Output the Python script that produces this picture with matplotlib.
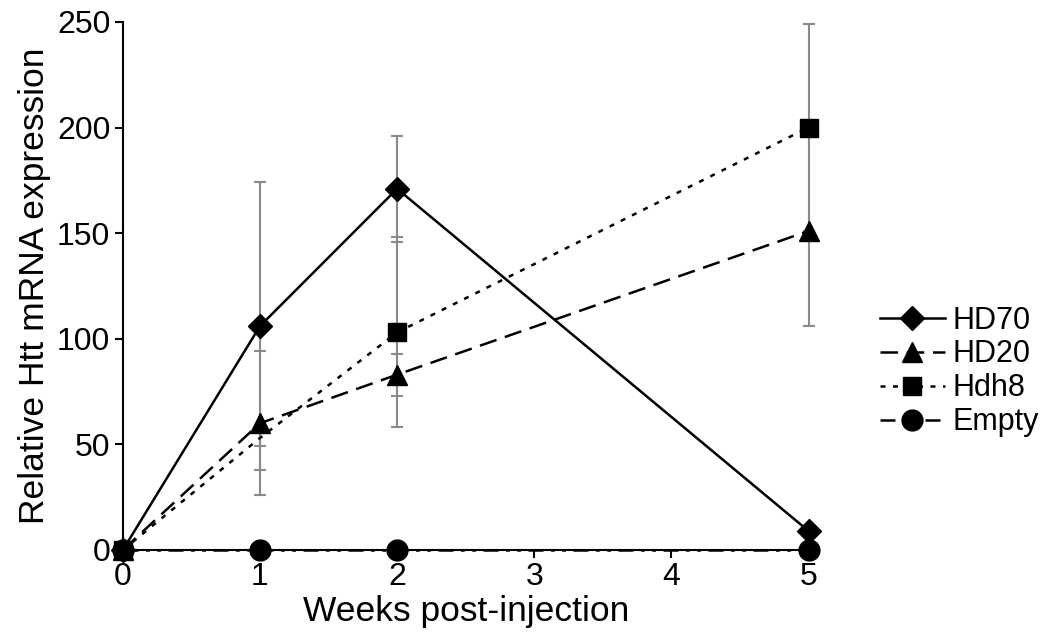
import numpy as np
import matplotlib
matplotlib.use('Agg')
import matplotlib.pyplot as plt
import matplotlib as mpl

settings = {"font.family": ['Liberation Sans', 'DejaVu Sans'],
            "xtick.labelsize": 23,
            "ytick.labelsize": 23,
            "axes.labelsize": 25.5,
            "legend.fontsize": 22}
mpl.rcParams.update(settings)

# data
weeks = [0, 1, 2, 5]
hd70 = [0, 106, 171, 9]
hd70_err = [0, 68, 25, 0]
hd20 = [0, 60, 83, 151]
hd20_err = [0, 34, 10, 45]
hdh8 = [0, 53, 103, 200]
hdh8_err = [0, 4, 45, 49]
empty = [0, 0, 0, 0]
empty_err = [0, 0, 0, 0]

fig = plt.figure(figsize=(10.5, 6.44), dpi=100)
ax = fig.add_axes([0.117, 0.146, 0.653, 0.82])

# name, values, sd, marker, size, linestyle, zorder, marked points
series = [
    ('HD70', hd70, hd70_err, 'D', 12, '-', 4, None),
    ('HD20', hd20, hd20_err, '^', 15, (0, (7, 3.5)), 4, None),
    ('Hdh8', hdh8, hdh8_err, 's', 13, (0, (2, 3)), 3, [0, 2, 3]),  # week-1 square hidden under triangle
    ('Empty', empty, empty_err, 'o', 15, (0, (6, 3, 1.5, 3, 1.5, 3)), 5, None),
]

for name, vals, err, mk, ms, ls, z, mev in series:
    eb = ax.errorbar(weeks, vals, yerr=err, fmt='none', ecolor='#8a8a8a',
                     elinewidth=1.5, capsize=4, capthick=1.5, clip_on=False, zorder=1)
    for art in eb.lines[1] + eb.lines[2]:
        art.set_clip_on(False)

for name, vals, err, mk, ms, ls, z, mev in series:
    ax.plot(weeks, vals, color='black', linestyle=ls, linewidth=1.8,
            marker=mk, markersize=ms, markevery=mev, label=name,
            clip_on=False, zorder=z)

ax.set_xlim(0, 5)
ax.set_ylim(0, 250)
ax.set_xticks([0, 1, 2, 3, 4, 5])
ax.set_yticks([0, 50, 100, 150, 200, 250])
ax.spines['top'].set_visible(False)
ax.spines['right'].set_visible(False)
ax.spines['left'].set_linewidth(1.5)
ax.spines['bottom'].set_linewidth(1.5)
ax.tick_params(length=6, width=1.5, pad=3)

ax.set_xlabel('Weeks post-injection', labelpad=2)
ax.set_ylabel('Relative Htt mRNA expression', labelpad=4)

leg = ax.legend(loc='center left', bbox_to_anchor=(1.087, 0.338), frameon=False,
                handlelength=2.1, handletextpad=0.25, labelspacing=0.13, borderaxespad=0)
for h in leg.legend_handles:
    h.set_markevery([1])

plt.savefig('out.png', dpi=100)
